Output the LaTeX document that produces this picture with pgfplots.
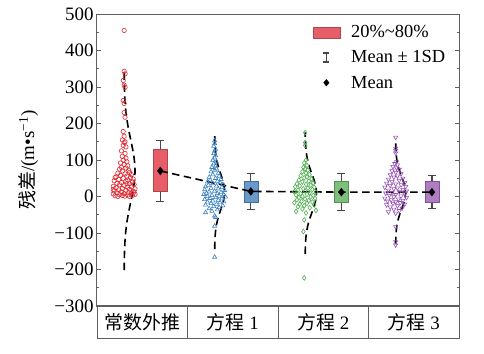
\documentclass[border=0pt]{standalone}
\usepackage{pgfplots}
\pgfplotsset{compat=1.18}
\usepackage{fontspec}
\setmainfont{Liberation Serif}
\newfontfamily\cjk{Noto Sans CJK SC}
\definecolor{axgray}{RGB}{95,95,95}
\definecolor{whisk}{RGB}{70,70,70}
\definecolor{boxred}{RGB}{232,94,104}
\definecolor{boxredD}{RGB}{170,70,78}
\definecolor{boxblue}{RGB}{104,154,204}
\definecolor{boxblueD}{RGB}{70,110,150}
\definecolor{boxgreen}{RGB}{124,192,124}
\definecolor{boxgreenD}{RGB}{85,140,85}
\definecolor{boxpurple}{RGB}{176,124,196}
\definecolor{boxpurpleD}{RGB}{125,85,145}
\definecolor{ptred}{RGB}{225,40,50}
\definecolor{ptblue}{RGB}{60,130,195}
\definecolor{ptgreen}{RGB}{80,175,80}
\definecolor{ptpurple}{RGB}{150,80,180}
\begin{document}
\begin{tikzpicture}
\useasboundingbox (-97bp,-48bp) rectangle (387bp,306bp);
\begin{axis}[at={(0,0)}, anchor=south west, scale only axis,
  width=362bp, height=292bp,
  xmin=0, xmax=4, ymin=-300, ymax=500,
  xtick=\empty,
  ytick={-300,-200,...,500},
  yticklabels={−300,−200,−100,0,100,200,300,400,500},
  minor y tick num=1,
  ytick pos=both, yticklabel pos=left,
  tick align=inside,
  major tick length=4bp, minor tick length=2.5bp,
  axis line style={draw=axgray, line width=1bp},
  every tick/.style={axgray, line width=0.8bp},
  tick label style={font=\fontsize{19}{22}\selectfont},
  ylabel={{\cjk 残差}/(m\textbullet s\textsuperscript{−1})},
  ylabel style={at={(axis description cs:-0.19,0.5)}, anchor=center, font=\fontsize{19}{22}\selectfont},
  legend style={draw=none, fill=none, at={(rel axis cs:0.595,0.968)}, anchor=north west,
    font=\fontsize{18.5}{22}\selectfont, row sep=7.5bp, column sep=9bp, inner sep=0pt},
  legend cell align=left,
  clip=false,
]
\addlegendimage{legend image code/.code={\draw[fill=boxred, draw=boxredD, line width=0.6bp] (0bp,-5.5bp) rectangle (27bp,5.5bp);}}
\addlegendentry{20\%\textasciitilde 80\%}
\addlegendimage{legend image code/.code={\draw[whisk, line width=1.3bp] (13.5bp,-4.5bp) -- (13.5bp,4.5bp) (10.5bp,-4.5bp) -- (16.5bp,-4.5bp) (10.5bp,4.5bp) -- (16.5bp,4.5bp);}}
\addlegendentry{Mean ± 1SD}
\addlegendimage{legend image code/.code={\fill[black] (13.5bp,0) +(0,3.3bp) -- +(2.7bp,0) -- +(0,-3.3bp) -- +(-2.7bp,0) -- cycle;}}
\addlegendentry{Mean}

% ---- scatter: group 1 (常数外推)
\addplot[forget plot, only marks, mark=o, mark size=2.2bp, mark options={ptred, line width=0.6bp}]
 table[row sep=\\, x expr=\thisrow{dx}+0.30, y=y] {
dx y\\
0.00 455\\ 0.00 343\\ 0.01 336\\ -0.01 318\\ 0.00 305\\ 0.01 299\\ -0.01 263\\ 0.00 255\\ 0.00 230\\ 0.01 217\\
-0.01 178\\ 0.00 165\\ -0.02 155\\ 0.01 150\\ 0.00 148\\ -0.01 140\\ 0.02 136\\
-0.03 125\\ 0.01 118\\ -0.02 110\\ 0.02 105\\ -0.01 100\\ 0.03 95\\ -0.04 92\\ 0.00 88\\ 0.04 84\\ -0.03 80\\ 0.02 78\\ -0.05 75\\
0.05 72\\ -0.02 70\\ 0.06 66\\ -0.07 64\\ 0.01 62\\ 0.08 60\\ -0.04 58\\ 0.03 56\\ -0.09 54\\ 0.07 52\\ -0.01 50\\ 0.10 48\\
-0.06 47\\ 0.04 45\\ -0.11 43\\ 0.02 42\\ 0.09 40\\ -0.03 38\\ -0.08 36\\ 0.06 35\\ 0.11 33\\ -0.05 32\\ 0.00 30\\ -0.12 28\\
0.08 27\\ 0.04 25\\ -0.09 24\\ -0.02 22\\ 0.12 21\\ 0.06 20\\ -0.06 18\\ 0.02 17\\ -0.11 15\\ 0.10 14\\ -0.03 13\\ 0.05 11\\
-0.08 10\\ 0.08 9\\ 0.00 8\\ -0.12 7\\ 0.12 6\\ -0.05 5\\ 0.04 4\\ 0.09 3\\ -0.10 2\\ 0.01 1\\ -0.07 0\\ 0.06 0\\ -0.02 3\\
0.11 12\\ -0.12 19\\ 0.03 35\\ -0.10 52\\
};
% ---- scatter: group 2 (方程1)
\addplot[forget plot, only marks, mark=triangle, mark size=2.4bp, mark options={ptblue, line width=0.6bp}]
 table[row sep=\\, x expr=\thisrow{dx}+1.30, y=y] {
dx y\\
0.00 153\\ 0.00 145\\ -0.01 138\\ 0.01 130\\ 0.00 125\\ -0.01 118\\ 0.01 112\\ 0.00 106\\ -0.02 100\\ 0.02 95\\ -0.01 90\\
0.01 84\\ -0.03 80\\ 0.02 76\\ 0.00 72\\ -0.04 68\\ 0.04 64\\ -0.02 60\\ 0.05 56\\ -0.06 53\\ 0.01 50\\ 0.07 47\\ -0.05 45\\
0.03 42\\ -0.08 40\\ 0.06 38\\ -0.02 36\\ 0.09 33\\ -0.07 31\\ 0.02 29\\ -0.10 27\\ 0.08 25\\ -0.04 23\\ 0.04 21\\ -0.11 19\\
0.11 17\\ 0.00 15\\ -0.06 13\\ 0.07 11\\ -0.09 9\\ 0.03 8\\ -0.12 6\\ 0.10 5\\ -0.03 3\\ 0.05 1\\ -0.08 0\\ 0.12 -1\\ 0.01 -3\\
-0.05 -5\\ 0.08 -6\\ -0.11 -8\\ 0.04 -10\\ -0.02 -12\\ 0.10 -14\\ -0.08 -15\\ 0.06 -17\\ -0.04 -19\\ 0.02 -21\\ -0.10 -23\\
0.09 -25\\ -0.01 -27\\ 0.05 -30\\ -0.06 -33\\ 0.03 -36\\ -0.03 -40\\ -0.10 -44\\ 0.00 -53\\ 0.01 -57\\ 0.00 -81\\ 0.00 -166\\
};
% ---- scatter: group 3 (方程2)
\addplot[forget plot, only marks, mark=diamond, mark size=2.4bp, mark options={ptgreen, line width=0.6bp}]
 table[row sep=\\, x expr=\thisrow{dx}+2.30, y=y] {
dx y\\
0.00 175\\ 0.00 148\\ 0.00 140\\ 0.01 100\\ -0.01 92\\ 0.02 85\\ -0.02 80\\ 0.00 76\\ 0.03 72\\ -0.03 68\\ 0.01 64\\ 0.05 60\\
-0.05 57\\ 0.02 54\\ -0.01 51\\ 0.07 48\\ -0.07 45\\ 0.04 42\\ -0.03 40\\ 0.09 37\\ -0.09 35\\ 0.01 33\\ 0.06 31\\ -0.06 29\\
-0.11 27\\ 0.10 25\\ 0.03 23\\ -0.02 21\\ 0.08 19\\ -0.08 17\\ 0.00 15\\ -0.12 13\\ 0.12 12\\ 0.05 10\\ -0.05 8\\ 0.02 6\\
-0.10 4\\ 0.09 3\\ -0.03 1\\ 0.06 -1\\ -0.07 -3\\ 0.11 -5\\ 0.00 -7\\ -0.09 -9\\ 0.04 -11\\ -0.04 -13\\ 0.08 -15\\ -0.12 -17\\
0.02 -19\\ -0.06 -21\\ 0.10 -23\\ -0.01 -25\\ -0.08 -28\\ 0.05 -31\\ -0.03 -34\\ 0.12 -38\\ -0.10 -41\\ 0.01 -45\\ -0.01 -64\\
-0.02 -96\\ -0.01 -223\\
};
% ---- scatter: group 4 (方程3)
\addplot[forget plot, only marks, mark=triangle, mark size=2.4bp, mark options={ptpurple, line width=0.6bp, rotate=180}]
 table[row sep=\\, x expr=\thisrow{dx}+3.30, y=y] {
dx y\\
0.00 162\\ 0.00 132\\ 0.00 126\\ 0.00 119\\ 0.01 95\\ -0.01 90\\ 0.02 86\\ -0.03 82\\ 0.01 78\\ 0.04 74\\ -0.04 70\\ 0.00 66\\
0.06 62\\ -0.06 59\\ 0.02 56\\ -0.02 53\\ 0.08 50\\ -0.08 47\\ 0.04 44\\ -0.04 41\\ 0.10 38\\ -0.10 36\\ 0.00 34\\ 0.06 32\\
-0.06 30\\ 0.11 27\\ -0.12 25\\ 0.02 23\\ -0.02 21\\ 0.08 19\\ -0.08 17\\ 0.12 15\\ 0.04 13\\ -0.04 11\\ -0.11 9\\ 0.10 7\\
0.00 5\\ -0.07 3\\ 0.06 1\\ -0.02 -1\\ 0.12 -3\\ -0.12 -5\\ 0.03 -7\\ -0.05 -9\\ 0.08 -11\\ -0.09 -13\\ 0.00 -15\\ 0.05 -17\\
-0.03 -19\\ 0.10 -21\\ -0.10 -23\\ 0.02 -26\\ -0.06 -29\\ 0.07 -32\\ -0.02 -35\\ 0.04 -39\\ -0.08 -42\\ 0.00 -46\\ 0.00 -83\\
0.00 -124\\ 0.00 -133\\
};

% ---- normal curves (dashed)
\pgfplotsset{curve/.style={forget plot, black, line width=1.6bp, dash pattern=on 7.5bp off 4.5bp, smooth}}
\addplot[curve] coordinates {(0.3007,-202)(0.3024,-168)(0.3067,-134)(0.3162,-100)(0.3334,-66)(0.3584,-32)(0.3871,2)(0.4108,36)(0.42,70)(0.4108,104)(0.3871,138)(0.3584,172)(0.3334,206)(0.3162,240)(0.3067,274)(0.3024,308)(0.3007,342)};
\addplot[curve] coordinates {(1.3007,-144.3)(1.3022,-124.7)(1.3062,-105.1)(1.3149,-85.5)(1.3306,-65.9)(1.3536,-46.3)(1.3799,-26.7)(1.4015,-7.1)(1.41,12.5)(1.4015,32.1)(1.3799,51.7)(1.3536,71.3)(1.3306,90.9)(1.3149,110.5)(1.3062,130.1)(1.3022,149.7)(1.3007,169.3)};
\addplot[curve] coordinates {(2.3008,-157.4)(2.3025,-136.6)(2.307,-115.8)(2.3169,-95)(2.3348,-74.2)(2.3609,-53.4)(2.3908,-32.6)(2.4154,-11.8)(2.425,9)(2.4154,29.8)(2.3908,50.6)(2.3609,71.4)(2.3348,92.2)(2.3169,113)(2.307,133.8)(2.3025,154.6)(2.3008,175.4)};
\addplot[curve] coordinates {(3.3007,-130.8)(3.3022,-113.2)(3.3062,-95.6)(3.3149,-78)(3.3306,-60.4)(3.3536,-42.8)(3.3799,-25.2)(3.4015,-7.6)(3.41,10)(3.4015,27.6)(3.3799,45.2)(3.3536,62.8)(3.3306,80.4)(3.3149,98)(3.3062,115.6)(3.3022,133.2)(3.3007,150.8)};

% ---- whiskers (mean ± 1SD)
\addplot[forget plot, whisk, line width=1.3bp] coordinates {(0.7,-14)(0.7,154)};
\addplot[forget plot, whisk, line width=1.3bp] coordinates {(0.656,154)(0.744,154)};
\addplot[forget plot, whisk, line width=1.3bp] coordinates {(0.656,-14)(0.744,-14)};
\addplot[forget plot, whisk, line width=1.3bp] coordinates {(1.7,-35)(1.7,63)};
\addplot[forget plot, whisk, line width=1.3bp] coordinates {(1.656,63)(1.744,63)};
\addplot[forget plot, whisk, line width=1.3bp] coordinates {(1.656,-35)(1.744,-35)};
\addplot[forget plot, whisk, line width=1.3bp] coordinates {(2.7,-39)(2.7,63)};
\addplot[forget plot, whisk, line width=1.3bp] coordinates {(2.656,63)(2.744,63)};
\addplot[forget plot, whisk, line width=1.3bp] coordinates {(2.656,-39)(2.744,-39)};
\addplot[forget plot, whisk, line width=1.3bp] coordinates {(3.7,-33)(3.7,57)};
\addplot[forget plot, whisk, line width=1.3bp] coordinates {(3.656,57)(3.744,57)};
\addplot[forget plot, whisk, line width=1.3bp] coordinates {(3.656,-33)(3.744,-33)};

% ---- boxes (20%~80%)
\addplot[forget plot, fill=boxred, draw=boxredD, line width=0.6bp] coordinates {(0.623,15)(0.777,15)(0.777,130)(0.623,130)} --cycle;
\addplot[forget plot, fill=boxblue, draw=boxblueD, line width=0.6bp] coordinates {(1.623,-17)(1.777,-17)(1.777,42)(1.623,42)} --cycle;
\addplot[forget plot, fill=boxgreen, draw=boxgreenD, line width=0.6bp] coordinates {(2.623,-17)(2.777,-17)(2.777,41)(2.623,41)} --cycle;
\addplot[forget plot, fill=boxpurple, draw=boxpurpleD, line width=0.6bp] coordinates {(3.623,-16)(3.777,-16)(3.777,41)(3.623,41)} --cycle;

% ---- mean line and markers
\addplot[forget plot, black, line width=1.6bp, dash pattern=on 7.5bp off 4.5bp, mark=diamond*, mark size=3bp, mark options={solid, black}]
 coordinates {(0.7,70)(1.7,14)(2.7,12)(3.7,12)};
\end{axis}

\begin{axis}[at={(0,0)}, anchor=north west, scale only axis,
  width=362bp, height=32bp, xmin=0, xmax=4, ymin=0, ymax=1,
  xtick=\empty, ytick=\empty,
  axis line style={draw=axgray, line width=1bp}, clip=false]
\draw[axgray, line width=1bp] (axis cs:1,0) -- (axis cs:1,1) (axis cs:2,0) -- (axis cs:2,1) (axis cs:3,0) -- (axis cs:3,1);
\node[font=\fontsize{19}{22}\selectfont] at (axis cs:0.5,0.5) {\cjk 常数外推};
\node[font=\fontsize{19}{22}\selectfont] at (axis cs:1.5,0.5) {{\cjk 方程} 1};
\node[font=\fontsize{19}{22}\selectfont] at (axis cs:2.5,0.5) {{\cjk 方程} 2};
\node[font=\fontsize{19}{22}\selectfont] at (axis cs:3.5,0.5) {{\cjk 方程} 3};
\end{axis}
\end{tikzpicture}
\end{document}
